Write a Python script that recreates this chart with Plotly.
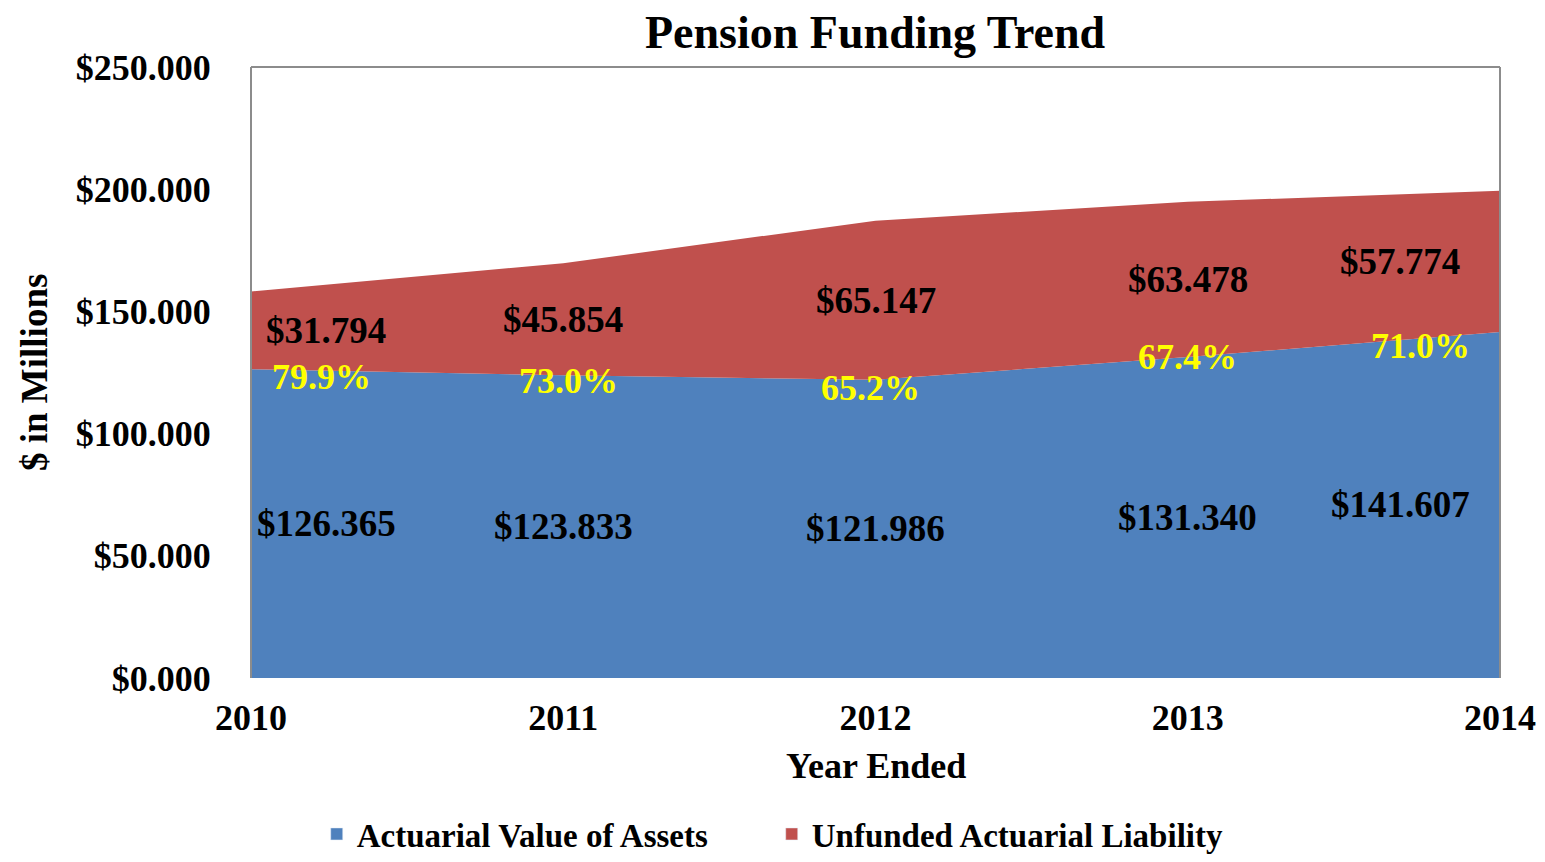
import plotly.graph_objects as go

years = [2010, 2011, 2012, 2013, 2014]
assets = [126.365, 123.833, 121.986, 131.340, 141.607]
unfunded = [31.794, 45.854, 65.147, 63.478, 57.774]
pct_labels = ["79.9%", "73.0%", "65.2%", "67.4%", "71.0%"]
ytick_vals = [0, 50, 100, 150, 200, 250]
ytick_text = ["$0.000", "$50.000", "$100.000", "$150.000", "$200.000", "$250.000"]

FONT = "Liberation Serif"
BLUE = "#4F81BD"
RED = "#C0504D"

fig = go.Figure()
fig.add_trace(go.Scatter(x=years, y=assets, stackgroup="one", mode="none",
                         fillcolor=BLUE, name="Actuarial Value of Assets", showlegend=False))
fig.add_trace(go.Scatter(x=years, y=unfunded, stackgroup="one", mode="none",
                         fillcolor=RED, name="Unfunded Actuarial Liability", showlegend=False))
# legend-only square swatches
fig.add_trace(go.Bar(x=[None], y=[None], marker_color=BLUE, name="<b>Actuarial Value of Assets</b>"))
fig.add_trace(go.Bar(x=[None], y=[None], marker_color=RED, name="<b>Unfunded Actuarial Liability</b>"))

# label placement (pixels) so edge labels stay inside plot
val_xshift = [75, 0, 0, 0, -100]
pct_xshift = [70, 5, -5, 0, -80]
pct_yshift = [-8, -6, -8, 0, -14]
ann = []
for i, yr in enumerate(years):
    ann.append(dict(x=yr, y=assets[i] / 2, text=f"<b>${assets[i]:.3f}</b>", showarrow=False,
                    xshift=val_xshift[i], font=dict(family=FONT, size=37, color="black")))
    ann.append(dict(x=yr, y=assets[i] + unfunded[i] / 2, text=f"<b>${unfunded[i]:.3f}</b>", showarrow=False,
                    xshift=val_xshift[i], font=dict(family=FONT, size=37, color="black")))
    ann.append(dict(x=yr, y=assets[i], text=f"<b>{pct_labels[i]}</b>", showarrow=False,
                    xshift=pct_xshift[i], yshift=pct_yshift[i],
                    font=dict(family=FONT, size=36, color="#FFFF00")))

ann.append(dict(xref="paper", yref="paper", x=0.5, y=1, yshift=62, text="<b>Pension Funding Trend</b>",
                showarrow=False, font=dict(family=FONT, size=46, color="black")))
ann.append(dict(xref="paper", yref="paper", x=0.5, y=0, yshift=-110, text="<b>Year Ended</b>",
                showarrow=False, font=dict(family=FONT, size=36, color="black")))
ann.append(dict(xref="paper", yref="paper", x=0, y=0.5, xshift=-239, text="<b>$ in Millions</b>",
                textangle=-90, showarrow=False, font=dict(family=FONT, size=37, color="black")))
fig.update_layout(annotations=ann)

fig.update_layout(
    width=1545, height=862,
    margin=dict(l=251, r=45, t=67, b=184),
    paper_bgcolor="white", plot_bgcolor="white",
    font=dict(family=FONT, size=30, color="black"),
    showlegend=True,
    legend=dict(orientation="h", xref="container", yref="container",
                x=0.205, xanchor="left", y=-0.014, yanchor="bottom",
                font=dict(family=FONT, size=33, color="black"), itemwidth=30,
                entrywidth=410, entrywidthmode="pixels",
                traceorder="normal", bgcolor="rgba(0,0,0,0)"),
    shapes=[
        dict(type="line", xref="paper", yref="paper", x0=0, x1=0, y0=0, y1=1, line=dict(color="#8c8c8c", width=2)),
        dict(type="line", xref="paper", yref="paper", x0=0, x1=1, y0=1, y1=1, line=dict(color="#8c8c8c", width=2)),
        dict(type="line", xref="paper", yref="paper", x0=1, x1=1, y0=0, y1=1, line=dict(color="#8c8c8c", width=2)),
    ],
)
fig.update_xaxes(range=[2010, 2014], tickvals=years, ticktext=[f"<b>{y}</b>" for y in years],
                 showgrid=False, zeroline=False, showline=False, ticks="outside", ticklen=8,
                 automargin=False,
                 tickcolor="rgba(0,0,0,0)", tickfont=dict(family=FONT, size=36, color="black"))
fig.update_yaxes(range=[0, 250], tickvals=ytick_vals, ticktext=[f"<b>{t}</b>" for t in ytick_text],
                 showgrid=False, zeroline=False, showline=False, ticks="outside", ticklen=0,
                 automargin=False,
                 ticklabelstandoff=32, tickfont=dict(family=FONT, size=36, color="black"))

fig.write_html("out.html", config={"displayModeBar": False},
               post_script="document.body.style.margin='0';document.body.style.overflow='hidden';")
